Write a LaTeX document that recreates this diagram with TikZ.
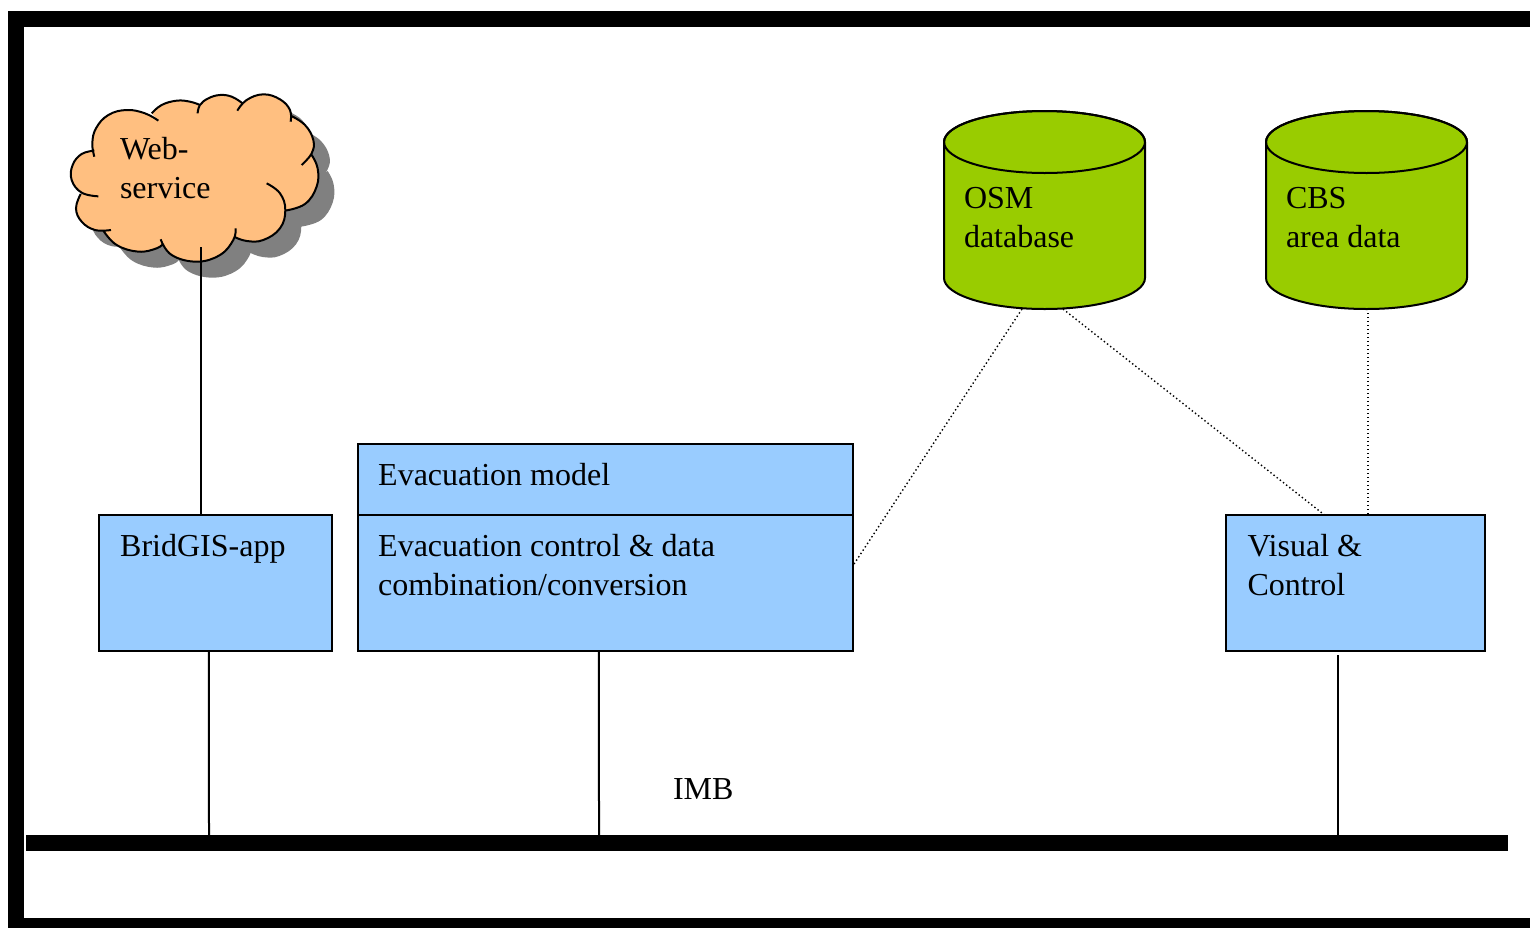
\documentclass[tikz,border=0pt]{standalone}
\usepackage{fontspec}
\setmainfont{Liberation Serif}
\usetikzlibrary{calc}
\definecolor{boxblue}{HTML}{99CCFF}
\definecolor{dbgreen}{HTML}{99CC00}
\definecolor{cloudorange}{HTML}{FFBF80}
\definecolor{shadowgray}{HTML}{808080}
\newcommand{\cloudlobes}[1]{
    plot[smooth, tension=0.7] coordinates {(325,122) (285,100) (230,90) (175,105) (138,145) (127,190) (133,230)} #1
    plot[smooth, tension=0.7] coordinates {(133,212) (95,222) (68,255) (65,300) (95,338) (145,349)} #1
    plot[smooth, tension=0.7] coordinates {(92,342) (78,385) (95,425) (135,450) (183,450)} #1
    plot[smooth, tension=0.7] coordinates {(160,452) (200,495) (265,515) (320,505) (340,490)} #1
    plot[smooth, tension=0.7] coordinates {(332,478) (365,525) (440,545) (510,525) (550,480) (557,445)} #1
    plot[smooth, tension=0.7] coordinates {(552,470) (590,483) (640,480) (690,445) (706,390) (690,340) (650,310)} #1
    plot[smooth, tension=0.7] coordinates {(705,392) (765,372) (800,320) (803,265) (785,225)} #1
    plot[smooth, tension=0.7] coordinates {(755,255) (785,220) (790,180) (765,135) (722,107)} #1
    plot[smooth, tension=0.7] coordinates {(722,125) (720,90) (690,58) (640,43) (590,60) (562,92)} #1
    plot[smooth, tension=0.7] coordinates {(575,68) (545,50) (510,45) (475,55) (450,75) (443,100)} #1
    plot[smooth, tension=0.7] coordinates {(450,75) (420,65) (380,62) (335,75) (305,100)}
}
\newcommand{\drum}[1]{
    \filldraw[fill=dbgreen] ($(#1.north west)+(0, 31)$) -- ($(#1.south west)+(0, -31)$)
        arc[start angle=180, end angle=360, x radius=100.5pt, y radius=31pt]
        -- ($(#1.north east)+(0, 31)$)
        arc[start angle=0, end angle=180, x radius=100.5pt, y radius=31pt] -- cycle;
    \draw ($(#1.north)+(0, 31)$) ellipse [x radius=100.5pt, y radius=31pt];
}
\tikzset{
    block/.style={draw, fill=boxblue, anchor=north west, inner sep=0pt, outer sep=0pt},
    store/.style={anchor=north west, inner sep=0pt, outer sep=0pt, minimum width=201pt, minimum height=198pt},
    txt/.style={anchor=north west, inner sep=0pt, align=left, font=\fontsize{32}{39}\selectfont,
        execute at begin node=\strut},
    link/.style={line width=2pt},
    dots/.style={line width=1.4pt, dash pattern=on 1.4pt off 2.6pt},
}
\begin{document}
\begin{tikzpicture}[x=1pt, y=-1pt, line width=2pt]
            \useasboundingbox (0, 0) rectangle (1530, 927);
            \clip (0, 0) rectangle (1530, 927);
            \fill[white] (0, 0) rectangle (1530, 927);
            \draw[line width=16pt] (15.5, 1600) -- (15.5, 19) -- (1600, 19);
            \draw[line width=16pt] (15.5, 925.5) -- (1600, 925.5);
            % cloud
            \begin{scope}[shift={(66, 96)}, x=0.3333pt, y=-0.3333pt]
                \fill[shadowgray] \cloudlobes{--} -- cycle;
            \end{scope}
            \begin{scope}[shift={(50, 80)}, x=0.3333pt, y=-0.3333pt]
                \fill[cloudorange] \cloudlobes{--} -- cycle;
                \draw \cloudlobes{};
            \end{scope}
            \coordinate (cloud) at (201, 247);
            \node[txt] (web) at (119, 136.7) {Web-\\service};
            % blue boxes
            \node[block, minimum width=232.5pt, minimum height=136pt] (app) at (99.2, 515) {};
            \node[block, minimum width=494.5pt, minimum height=71pt] (model) at (358.2, 444) {};
            \node[block, minimum width=494.5pt, minimum height=136pt] (control) at (358.2, 515) {};
            \node[block, minimum width=259pt, minimum height=136pt] (visual) at (1226, 515) {};
            \node[txt] (apptxt) at ($(app.north west)+(20, 12.7)$) {BridGIS-app};
            \node[txt] (modeltxt) at ($(model.north west)+(19, 12.7)$) {Evacuation model};
            \node[txt] (controltxt) at ($(control.north west)+(19, 18.7)$) {Evacuation control \& data\\combination/conversion};
            \node[txt] (visualtxt) at ($(visual.north west)+(20.5, 18.7)$) {Visual \&\\Control};
            % databases
            \node[store] (osm) at (944, 111) {};
            \node[store] (cbs) at (1266, 111) {};
            \drum{osm}
            \drum{cbs}
            \node[txt] (osmtxt) at ($(osm.center)+(-81.5, -23.3)$) {OSM\\database};
            \node[txt] (cbstxt) at ($(cbs.center)+(-81.5, -23.3)$) {CBS\\area data};
            % bus
            \node[fill=black, anchor=north west, inner sep=0pt, outer sep=0pt, minimum width=1482pt, minimum height=15.5pt] (imb) at (26, 835) {};
            \node[txt] (imbtxt) at (672, 770.7) {IMB};
            \path[link]
                (cloud) edge (cloud |- app.north)
                ($(app.south)+(-6.5, 0)$) edge ($(imb.north west)+(183, 0)$)
                ($(control.south)+(-6.5, 0)$) edge ($(imb.north west)+(573, 0)$)
                ($(visual.south)+(-17.5, 4)$) edge ($(imb.north west)+(1312, 0)$)
            ;
            \path[dots]
                ($(osm.south)+(-22.5, 0)$) edge ($(control.north east)+(0, 51)$)
                ($(osm.south)+(18.5, 0)$) edge ($(visual.north west)+(98.5, 0)$)
                ($(cbs.south)+(1.5, 0)$) edge ($(visual.north west)+(142, 0)$)
            ;
        \end{tikzpicture}
\end{document}
